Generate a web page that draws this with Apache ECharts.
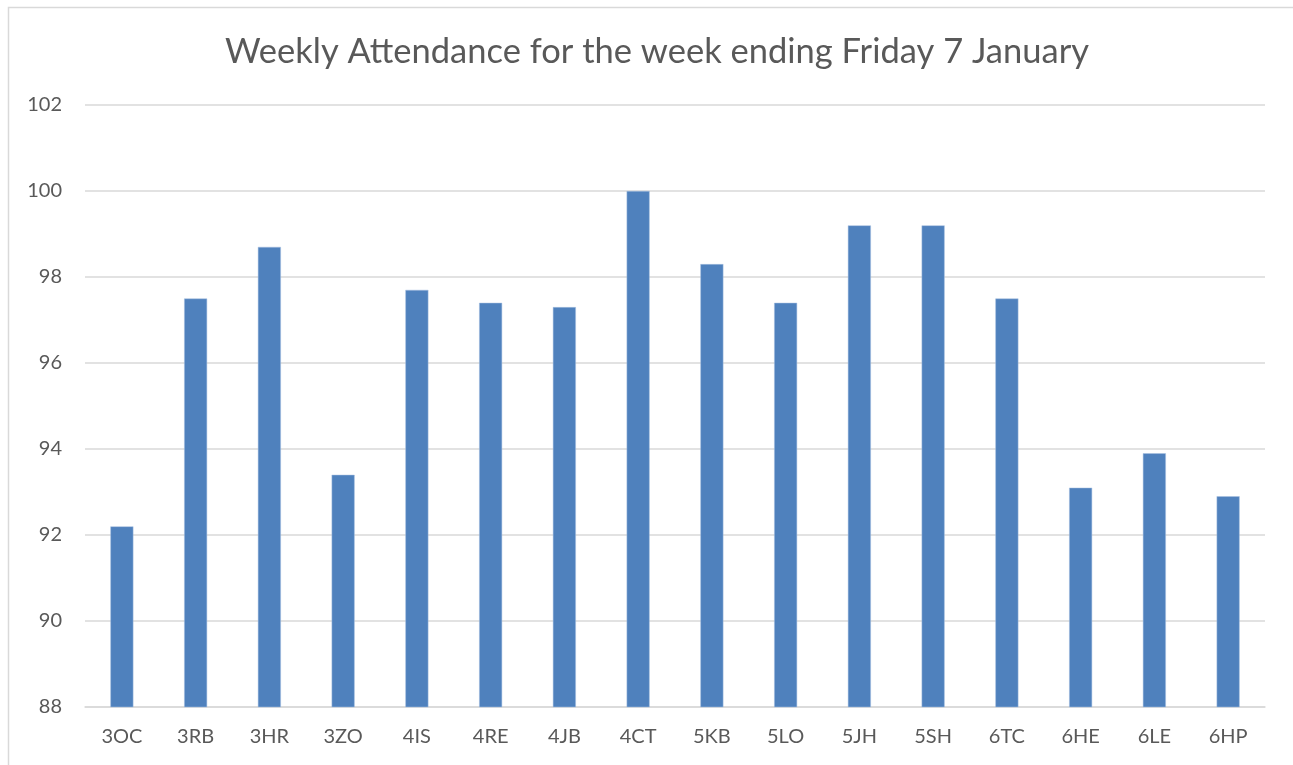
<!DOCTYPE html>
<html>
<head>
<meta charset="utf-8">
<script src="https://cdn.jsdelivr.net/npm/echarts@6/dist/echarts.min.js"></script>
<style>html,body{margin:0;padding:0;background:#fff}#c{width:1293px;height:765px}</style>
</head>
<body>
<div id="c"></div>
<script>
const categories = ['3OC','3RB','3HR','3ZO','4IS','4RE','4JB','4CT','5KB','5LO','5JH','5SH','6TC','6HE','6LE','6HP'];
const attendance = [92.2,97.5,98.7,93.4,97.7,97.4,97.3,100,98.3,97.4,99.2,99.2,97.5,93.1,93.9,92.9];
const titleText = 'Weekly Attendance for the week ending Friday 7 January';
const yMin = 88, yMax = 102, yStep = 2;

const chart = echarts.init(document.getElementById('c'));
chart.setOption({
  animation: false,
  backgroundColor: '#fff',
  textStyle: { fontFamily: 'Lato' },
  title: {
    text: titleText,
    left: 652, top: 29, textAlign: 'center',
    textStyle: { fontFamily: 'Lato', fontSize: 34.5, fontWeight: 'normal', color: '#595959' }
  },
  graphic: [{
    type: 'rect', silent: true,
    shape: { x: 8.5, y: 7.5, width: 1300, height: 800 },
    style: { fill: 'none', stroke: '#d9d9d9', lineWidth: 1.5 }
  }],
  grid: { left: 85, right: 28, top: 105, bottom: 58 },
  xAxis: {
    type: 'category', data: categories,
    axisLine: { show: true, lineStyle: { color: '#d9d9d9', width: 1.5 } },
    axisTick: { show: false },
    axisLabel: { color: '#595959', fontSize: 20, margin: 20, fontFamily: 'Lato' }
  },
  yAxis: {
    type: 'value', min: yMin, max: yMax, interval: yStep,
    axisLine: { show: false }, axisTick: { show: false },
    splitLine: { lineStyle: { color: '#d9d9d9', width: 1.5 } },
    axisLabel: { color: '#595959', fontSize: 20, margin: 23, fontFamily: 'Lato' }
  },
  series: [{
    type: 'bar', data: attendance, barWidth: 23,
    itemStyle: { color: '#4f81bd', borderColor: '#a9c0e0', borderWidth: 0.5 }
  }]
});
</script>
</body>
</html>
